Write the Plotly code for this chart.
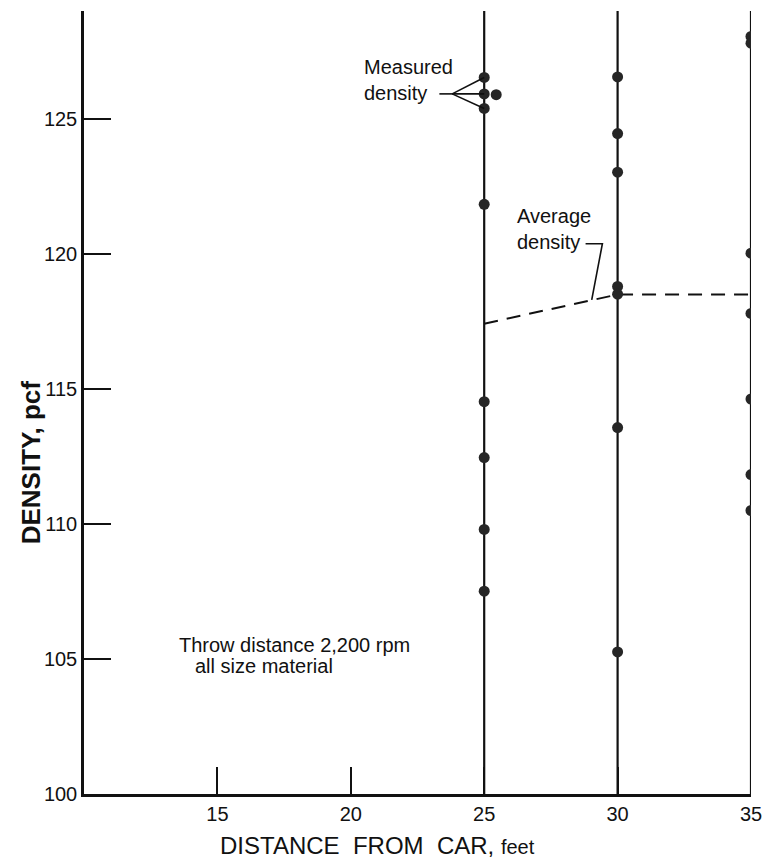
import plotly.graph_objects as go

# ---- data ----
x_ticks = [15, 20, 25, 30, 35]
y_ticks = [100, 105, 110, 115, 120, 125]
column_x = [25, 30, 35]
y_span = [100, 129]

dens_25 = [126.54, 125.93, 125.39, 121.84, 114.53, 112.46, 109.80, 107.51]
dens_30 = [126.56, 124.46, 123.03, 118.80, 118.51, 113.57, 105.26]
dens_35 = [128.06, 127.81, 120.03, 117.80, 114.63, 111.83, 110.50]
# repeated measurements plotted beside the column
extra_x = [25.45, 35.45]
extra_y = [125.90, 120.00]

avg_x = [25, 30, 35]
avg_y = [117.42, 118.50, 118.50]

FONT = "Liberation Sans, Arial, sans-serif"
INK = "#111111"

fig = go.Figure()

# vertical column lines
for cx in column_x:
    fig.add_trace(go.Scatter(x=[cx, cx], y=y_span, mode="lines",
                             line=dict(color=INK, width=2.2),
                             hoverinfo="skip", showlegend=False))

# average density dashed line
fig.add_trace(go.Scatter(x=avg_x, y=avg_y, mode="lines",
                         line=dict(color=INK, width=2, dash="14px,9px"),
                         showlegend=False))

# measured density points
for cx, vals in zip(column_x, [dens_25, dens_30, dens_35]):
    fig.add_trace(go.Scatter(x=[cx] * len(vals), y=vals, mode="markers",
                             marker=dict(size=11, color="#262626"),
                             showlegend=False))
fig.add_trace(go.Scatter(x=extra_x, y=extra_y, mode="markers",
                         marker=dict(size=11, color="#262626"),
                         cliponaxis=False, showlegend=False))

# leader for "Measured density"
fan_x0, tail_x0 = 23.80, 23.32
fan_y = dens_25[1]
lx, ly = [tail_x0, fan_x0], [fan_y, fan_y]
for v in dens_25[:3]:
    lx += [None, fan_x0, 25]
    ly += [None, fan_y, v]
fig.add_trace(go.Scatter(x=lx, y=ly, mode="lines",
                         line=dict(color=INK, width=1.6), showlegend=False))

# leader for "Average density"
fig.add_trace(go.Scatter(x=[28.80, 29.43, 29.03], y=[120.38, 120.38, 118.30],
                         mode="lines", line=dict(color=INK, width=1.6),
                         showlegend=False))

ann = []
ann.append(dict(x=20.43, y=126.43, xref="x", yref="y", xanchor="left", yanchor="middle",
                text="Measured<br>density", align="left", showarrow=False,
                font=dict(family=FONT, size=20, color=INK)))
ann.append(dict(x=26.17, y=120.91, xref="x", yref="y", xanchor="left", yanchor="middle",
                text="Average<br>density", align="left", showarrow=False,
                font=dict(family=FONT, size=20, color=INK)))
ann.append(dict(x=13.47, y=105.52, xref="x", yref="y", xanchor="left", yanchor="middle",
                text="Throw distance 2,200 rpm", showarrow=False,
                font=dict(family=FONT, size=20, color=INK)))
ann.append(dict(x=14.10, y=104.75, xref="x", yref="y", xanchor="left", yanchor="middle",
                text="all size material", showarrow=False,
                font=dict(family=FONT, size=20, color=INK)))
ann.append(dict(x=20.99, y=-0.066, xref="x", yref="paper", xanchor="center", yanchor="middle",
                text="DISTANCE  FROM  CAR, <span style='font-size:20px'>feet</span>",
                showarrow=False, font=dict(family=FONT, size=24, color=INK)))
ann.append(dict(x=-0.079, y=0.424, xref="paper", yref="paper", xanchor="center", yanchor="middle",
                text="<b>DENSITY, pcf</b>", textangle=-90, showarrow=False,
                font=dict(family=FONT, size=26, color=INK)))

fig.update_layout(
    width=773, height=864,
    margin=dict(l=84, r=14, t=11, b=70),
    paper_bgcolor="white", plot_bgcolor="white",
    annotations=ann,
    showlegend=False,
    xaxis=dict(range=[10, 35], tickvals=x_ticks, ticktext=[str(v) for v in x_ticks],
               ticks="inside", ticklen=27, tickwidth=2, tickcolor=INK,
               showline=True, linewidth=2.5, linecolor=INK,
               showgrid=False, zeroline=False,
               tickfont=dict(family=FONT, size=20, color=INK)),
    yaxis=dict(range=[100, 129], tickvals=y_ticks, ticktext=[str(v) for v in y_ticks],
               ticks="inside", ticklen=27, tickwidth=2, tickcolor=INK,
               showline=True, linewidth=2.5, linecolor=INK,
               showgrid=False, zeroline=False,
               tickfont=dict(family=FONT, size=20, color=INK)),
)

fig.write_html("out.html")
